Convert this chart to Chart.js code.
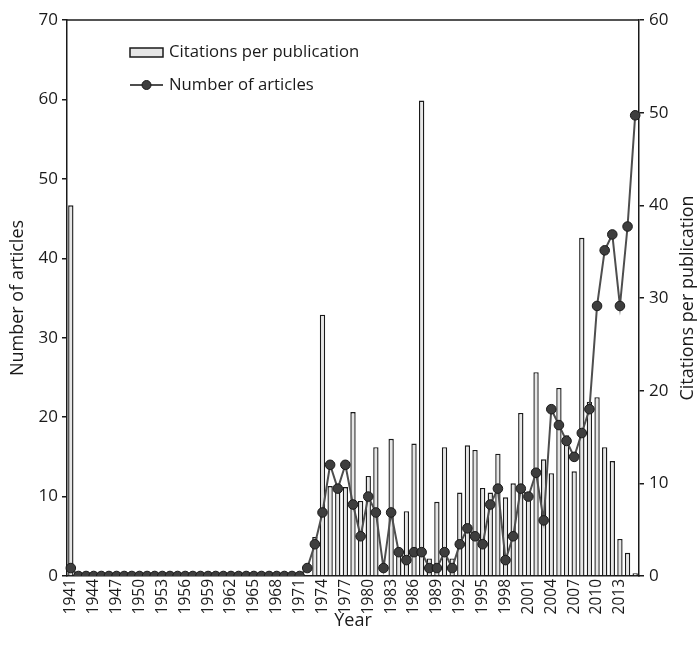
<!DOCTYPE html>
<html>
<head>
<meta charset="utf-8">
<script src="https://cdn.jsdelivr.net/npm/chart.js@4.4.1/dist/chart.umd.min.js"></script>
<style>
    html, body { margin: 0; padding: 0; background: #fff; }
    #wrap { width: 700px; height: 655px; }
</style>
</head>
<body>
<div id="wrap"><canvas id="myChart" width="700" height="655"></canvas></div>
<script>
var years = [
    '1941', '1942', '1943', '1944', '1945', '1946', '1947', '1948', '1949', '1950',
    '1951', '1952', '1953', '1954', '1955', '1956', '1957', '1958', '1959', '1960',
    '1961', '1962', '1963', '1964', '1965', '1966', '1967', '1968', '1969', '1970',
    '1971', '1972', '1973', '1974', '1975', '1976', '1977', '1978', '1979', '1980',
    '1981', '1982', '1983', '1984', '1985', '1986', '1987', '1988', '1989', '1990',
    '1991', '1992', '1993', '1994', '1995', '1996', '1997', '1998', '1999', '2000',
    '2001', '2002', '2003', '2004', '2005', '2006', '2007', '2008', '2009', '2010',
    '2011', '2012', '2013', '2014', '2015'
];

// number of articles per year (left axis)
var articles = [
    1, 0, 0, 0, 0, 0, 0, 0, 0, 0,
    0, 0, 0, 0, 0, 0, 0, 0, 0, 0,
    0, 0, 0, 0, 0, 0, 0, 0, 0, 0,
    0, 1, 4, 8, 14, 11, 14, 9, 5, 10,
    8, 1, 8, 3, 2, 3, 3, 1, 1, 3,
    1, 4, 6, 5, 4, 9, 11, 2, 5, 11,
    10, 13, 7, 21, 19, 17, 15, 18, 21, 34,
    41, 43, 34, 44, 58
];

// citations per publication (right axis)
var citations = [
    40.0, 0, 0, 0, 0, 0, 0, 0, 0, 0,
    0, 0, 0, 0, 0, 0, 0, 0, 0, 0,
    0, 0, 0, 0, 0, 0, 0, 0, 0, 0,
    0, 0, 4.2, 28.2, 9.7, 9.5, 9.6, 17.7, 8.1, 10.8,
    13.9, 0, 14.8, 2.5, 7.0, 14.3, 51.3, 1.9, 8.0, 13.9,
    1.9, 9.0, 14.1, 13.6, 9.5, 9.0, 13.2, 8.5, 10.0, 17.6,
    9.0, 22.0, 12.6, 11.1, 20.3, 15.2, 11.3, 36.5, 18.8, 19.3,
    13.9, 12.4, 4.0, 2.5, 0.3
];

var leftTicks = [0, 10, 20, 30, 40, 50, 60, 70];
var rightTicks = [0, 10, 20, 30, 40, 50, 60];

var FONT = "'Open Sans', 'DejaVu Sans', sans-serif";
var INK = '#1a1a1a';

// top frame line, right axis title and the legend inside the plot
var extras = {
    id: 'extras',
    afterDraw: function(chart) {
        var ctx = chart.ctx;
        var a = chart.chartArea;
        ctx.save();
        ctx.strokeStyle = INK;
        ctx.lineWidth = 1.5;
        ctx.beginPath();
        ctx.moveTo(a.left, a.top);
        ctx.lineTo(a.right, a.top);
        ctx.stroke();

        // right axis title, reading bottom to top
        ctx.fillStyle = INK;
        ctx.font = '18px ' + FONT;
        ctx.textAlign = 'center';
        ctx.textBaseline = 'middle';
        ctx.translate(688, (a.top + a.bottom) / 2);
        ctx.rotate(-Math.PI / 2);
        ctx.fillText('Citations per publication', 0, 0);
        ctx.restore();

        // legend
        var bars = chart.data.datasets[1];
        var line = chart.data.datasets[0];
        var x0 = a.left + 63, x1 = a.left + 96;
        ctx.save();
        ctx.font = '16.7px ' + FONT;
        ctx.textBaseline = 'middle';
        ctx.textAlign = 'left';
        ctx.fillStyle = bars.backgroundColor;
        ctx.strokeStyle = bars.borderColor;
        ctx.lineWidth = 1.5;
        ctx.fillRect(x0, 48, x1 - x0, 9);
        ctx.strokeRect(x0, 48, x1 - x0, 9);
        ctx.fillStyle = INK;
        ctx.fillText(bars.label, x1 + 6, 52);

        ctx.strokeStyle = line.borderColor;
        ctx.lineWidth = 2;
        ctx.beginPath();
        ctx.moveTo(x0, 85);
        ctx.lineTo(x1, 85);
        ctx.stroke();
        ctx.beginPath();
        ctx.arc((x0 + x1) / 2, 85, 4.5, 0, Math.PI * 2);
        ctx.fillStyle = line.pointBackgroundColor;
        ctx.fill();
        ctx.lineWidth = 1;
        ctx.strokeStyle = line.pointBorderColor;
        ctx.stroke();
        ctx.fillStyle = INK;
        ctx.fillText(line.label, x1 + 6, 85);
        ctx.restore();
    }
};

var ctx = document.getElementById('myChart');

var myChart = new Chart(ctx, {
    type: 'bar',
    data: {
        labels: years,
        datasets: [{
            type: 'line',
            label: 'Number of articles',
            data: articles,
            yAxisID: 'y',
            order: 0,
            borderColor: '#4e4e4e',
            borderWidth: 2,
            pointRadius: 4.8,
            pointBackgroundColor: '#3e3e3e',
            pointBorderColor: '#1a1a1a',
            pointBorderWidth: 1,
            tension: 0
        }, {
            type: 'bar',
            label: 'Citations per publication',
            data: citations,
            yAxisID: 'y1',
            order: 1,
            backgroundColor: '#e6e6e6',
            borderColor: '#1a1a1a',
            borderWidth: 1.4,
            borderSkipped: 'bottom',
            categoryPercentage: 1.0,
            barPercentage: 0.7
        }]
    },
    options: {
        responsive: false,
        animation: false,
        layout: { padding: { top: 20, left: 0, right: 0, bottom: 0 } },
        plugins: {
            legend: { display: false },
            tooltip: { enabled: false }
        },
        scales: {
            x: {
                afterFit: function(scale) { scale.height = 79; },
                grid: { display: false, drawTicks: false },
                border: { display: true, color: INK, width: 1.5 },
                ticks: {
                    autoSkip: false,
                    minRotation: 90,
                    maxRotation: 90,
                    padding: 3,
                    color: INK,
                    font: { family: FONT, size: 15.5 },
                    callback: function(value, index) {
                        return index % 3 === 0 ? years[index] : '';
                    }
                },
                title: {
                    display: true,
                    text: 'Year',
                    color: INK,
                    font: { family: FONT, size: 18 },
                    padding: { top: 0, bottom: 23 }
                }
            },
            y: {
                position: 'left',
                min: leftTicks[0],
                max: leftTicks[leftTicks.length - 1],
                afterFit: function(scale) { scale.width = 67; },
                afterBuildTicks: function(scale) {
                    scale.ticks = leftTicks.map(function(v) { return { value: v }; });
                },
                grid: { drawOnChartArea: false, drawTicks: true, tickLength: 5, color: INK, lineWidth: 1.5 },
                border: { display: true, color: INK, width: 1.5 },
                ticks: {
                    padding: 4,
                    color: INK,
                    font: { family: FONT, size: 17 }
                },
                title: {
                    display: true,
                    text: 'Number of articles',
                    color: INK,
                    font: { family: FONT, size: 18 },
                    padding: { top: 7, bottom: 0 }
                }
            },
            y1: {
                position: 'right',
                min: rightTicks[0],
                max: rightTicks[rightTicks.length - 1],
                afterFit: function(scale) { scale.width = 61; },
                afterBuildTicks: function(scale) {
                    scale.ticks = rightTicks.map(function(v) { return { value: v }; });
                },
                grid: { drawOnChartArea: false, drawTicks: true, tickLength: 5, color: INK, lineWidth: 1.5 },
                border: { display: true, color: INK, width: 1.5 },
                ticks: {
                    padding: 5,
                    color: INK,
                    font: { family: FONT, size: 17 }
                }
            }
        }
    },
    plugins: [extras]
});
</script>
</body>
</html>
